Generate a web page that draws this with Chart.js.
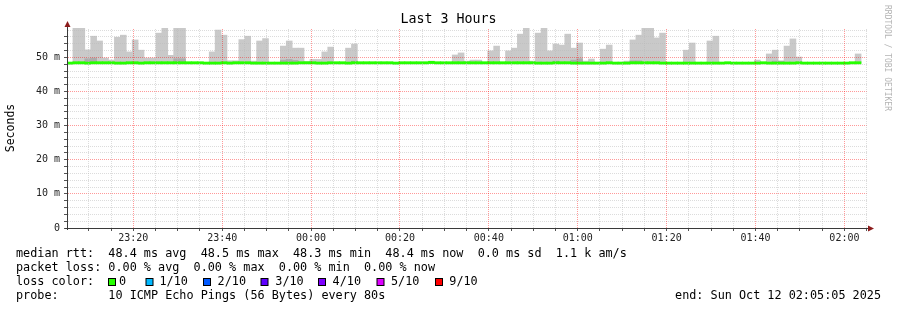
<!DOCTYPE html>
<html>
<head>
<meta charset="utf-8">
<script src="https://cdn.jsdelivr.net/npm/chart.js@4.4.1/dist/chart.umd.min.js"></script>
<style>
  html, body { margin: 0; padding: 0; background: #fff; }
  canvas { display: block; }
</style>
</head>
<body>
<canvas id="mainChart" width="897" height="310"></canvas>
<script>
// 3 hour window, one bin per 80s step, ending Sun Oct 12 02:05:05 2025
var startTime = '23:05:05';
var windowSecs = 10800;
var timeTickLabels = ['23:20', '23:40', '00:00', '00:20', '00:40', '01:00', '01:20', '01:40', '02:00'];
var yTickLabels = ['0', '10 m', '20 m', '30 m', '40 m', '50 m'];
var yMax = 58.6;

// median rtt per bin (ms)
var median = [
  48.3, 48.4, 48.4, 48.3, 48.4, 48.4, 48.4, 48.4, 48.3, 48.3, 48.4, 48.4, 48.3, 48.4, 48.4, 48.4, 48.4, 48.4, 48.4, 48.4,
  48.4, 48.4, 48.4, 48.3, 48.3, 48.3, 48.4, 48.3, 48.4, 48.4, 48.4, 48.3, 48.3, 48.3, 48.3, 48.3, 48.3, 48.3, 48.3, 48.4,
  48.4, 48.4, 48.3, 48.3, 48.4, 48.4, 48.4, 48.3, 48.4, 48.4, 48.4, 48.4, 48.4, 48.4, 48.4, 48.3, 48.4, 48.4, 48.4, 48.4,
  48.4, 48.5, 48.4, 48.4, 48.4, 48.4, 48.4, 48.4, 48.4, 48.4, 48.4, 48.4, 48.4, 48.4, 48.4, 48.4, 48.4, 48.4, 48.4, 48.3,
  48.3, 48.3, 48.4, 48.4, 48.4, 48.3, 48.3, 48.3, 48.3, 48.3, 48.3, 48.4, 48.3, 48.3, 48.3, 48.4, 48.4, 48.4, 48.4, 48.4,
  48.3, 48.3, 48.3, 48.3, 48.3, 48.3, 48.3, 48.3, 48.3, 48.3, 48.3, 48.4, 48.3, 48.3, 48.3, 48.3, 48.3, 48.4, 48.3, 48.3,
  48.3, 48.3, 48.3, 48.4, 48.3, 48.3, 48.3, 48.3, 48.3, 48.3, 48.3, 48.3, 48.4, 48.4, null
];

// highest ping per bin (outer smoke), null = no spread above median
var smokeHi = [
  null, 58.6, 58.6, 52.2, 56.2, 54.8, 49.8, 49.2, 55.9, 56.5, 51.6, 55.1, 52.1, 49.8, 49.8, 57.1, 58.6, 50.6, 58.6, 58.6,
  null, null, null, null, 51.6, 58.0, 56.5, 49.0, 49.0, 55.2, 56.2, 48.9, 54.8, 55.5, null, null, 53.3, 54.8, 52.7, 52.7,
  48.8, 49.4, 49.4, 51.6, 53.0, null, null, 52.7, 53.9, null, null, null, null, null, null, null, null, null, null, null,
  null, 48.9, null, null, null, 50.7, 51.3, 48.9, 49.2, 49.2, null, 51.9, 53.3, null, 51.9, 52.7, 56.8, 58.6, 48.9, 57.1,
  58.6, 51.9, 53.9, 53.6, 56.8, 52.7, 54.2, 48.9, 49.5, null, 52.4, 53.6, null, null, 48.9, 55.1, 56.5, 58.6, 58.6, 55.7,
  57.1, null, null, null, 52.1, 54.2, null, null, 54.8, 56.2, null, null, null, null, null, null, 49.2, null, 51.0, 52.1,
  48.9, 53.3, 55.4, 50.1, null, null, null, null, null, null, null, null, null, 51.0, null
];

// inner (denser) smoke per bin
var smokeInner = [
  null, null, null, 49.6, 49.8, null, null, null, null, null, null, null, null, null, null, null, null, null, 49.6, 49.6,
  null, null, null, null, null, null, null, null, null, null, null, null, null, null, null, null, 49.2, 49.4, 49.1, null,
  null, null, null, null, null, null, null, null, 48.9, null, null, null, null, null, null, null, null, null, null, null,
  null, null, null, null, null, null, null, null, null, null, null, null, null, null, null, null, null, null, null, null,
  null, null, 48.9, null, null, 49.2, 49.6, null, null, null, null, null, null, null, null, 49.0, 49.0, null, null, null,
  null, null, null, null, null, null, null, null, null, null, null, null, null, null, null, null, null, null, null, 48.9,
  48.9, null, null, null, null, null, null, null, null, null, null, null, null, null, null
];

var lossLabels = ['0', '1/10', '2/10', '3/10', '4/10', '5/10', '9/10'];
var lossColors = ['#26ff00', '#00b8ff', '#0059ff', '#5e00ff', '#7e00ff', '#dd00ff', '#ff0000'];

var rttLine = 'median rtt:  48.4 ms avg  48.5 ms max  48.3 ms min  48.4 ms now  0.0 ms sd  1.1 k am/s';
var lossLine = 'packet loss: 0.00 % avg  0.00 % max  0.00 % min  0.00 % now';
var probeLine = 'probe:       10 ICMP Echo Pings (56 Bytes) every 80s';
var endLine = 'end: Sun Oct 12 02:05:05 2025';

var MONO = '"DejaVu Sans Mono", monospace';
var GREEN_HALF = 0.33;   // half thickness of the median band, in ms

function toAbs(t) {
  var p = t.split(':');
  return parseInt(p[0]) * 3600 + parseInt(p[1]) * 60 + (p[2] ? parseInt(p[2]) : 0);
}
//seconds since the window start for a hh:mm(:ss) string
function toSecs(t) {
  var s = toAbs(t);
  var s0 = toAbs(startTime);
  if (s < s0) s += 86400;
  return s - s0;
}

var majorSecs = timeTickLabels.map(toSecs);
var minorSecs = [];
for (var s = toSecs('23:10'); s <= windowSecs; s += 300) minorSecs.push(s);

var categories = median.map(function (v, i) { return i; });
var medianBars = median.map(function (v) { return v == null ? null : [v - GREEN_HALF, v + GREEN_HALF]; });
var smokeBars = smokeHi.map(function (v, i) { return v == null ? null : [median[i], v]; });
var innerBars = smokeInner.map(function (v, i) { return v == null ? null : [median[i], v]; });

var GRID_MINOR = 'rgba(185,185,185,0.5)';
var GRID_MAJOR = 'rgba(255,0,0,0.4)';

//dotted rrdtool style grid, drawn over the data
var rrdGrid = {
  id: 'rrdGrid',
  afterDatasetsDraw: function (chart) {
    var ctx = chart.ctx;
    var a = chart.chartArea;
    var xs = chart.scales.xt, ys = chart.scales.y;
    var top = Math.round(a.top), bottom = Math.round(a.bottom);
    var left = Math.round(a.left), right = Math.round(a.right);
    ctx.save();

    //horizontal
    for (var v = 2; v < yMax; v += 2) {
      var py = Math.round(ys.getPixelForValue(v) - 0.5);
      ctx.fillStyle = v % 10 === 0 ? GRID_MAJOR : GRID_MINOR;
      for (var x = left + 1; x < right; x += 2) ctx.fillRect(x, py, 1, 1);
    }
    //vertical
    for (var i = 0; i < minorSecs.length; i++) {
      var px = Math.round(xs.getPixelForValue(minorSecs[i]) - 0.5);
      ctx.fillStyle = majorSecs.indexOf(minorSecs[i]) >= 0 ? GRID_MAJOR : GRID_MINOR;
      for (var y = bottom - 1; y > top; y -= 2) ctx.fillRect(px, y, 1, 1);
    }
    ctx.restore();
  }
};

var rrdDecor = {
  id: 'rrdDecor',
  beforeDraw: function (chart) {
    var ctx = chart.ctx;
    ctx.save();
    ctx.fillStyle = '#ffffff';
    ctx.fillRect(0, 0, chart.width, chart.height);
    ctx.restore();
  },
  afterDraw: function (chart) {
    var ctx = chart.ctx;
    var a = chart.chartArea;
    ctx.save();

    //axes
    ctx.strokeStyle = '#3a3a3a';
    ctx.lineWidth = 1;
    ctx.beginPath();
    ctx.moveTo(a.left + 0.5, a.bottom + 2);
    ctx.lineTo(a.left + 0.5, a.top - 4);
    ctx.moveTo(a.left - 2, a.bottom + 0.5);
    ctx.lineTo(a.right + 2, a.bottom + 0.5);
    ctx.stroke();

    //arrows
    ctx.fillStyle = '#8c1c1c';
    ctx.beginPath();
    ctx.moveTo(a.left - 2.5, a.top - 1);
    ctx.lineTo(a.left + 3.5, a.top - 1);
    ctx.lineTo(a.left + 0.5, a.top - 7);
    ctx.closePath();
    ctx.fill();
    ctx.beginPath();
    ctx.moveTo(a.right + 1, a.bottom - 2.5);
    ctx.lineTo(a.right + 1, a.bottom + 3.5);
    ctx.lineTo(a.right + 7, a.bottom + 0.5);
    ctx.closePath();
    ctx.fill();

    //title
    ctx.fillStyle = '#000';
    ctx.textBaseline = 'middle';
    ctx.textAlign = 'center';
    ctx.font = '13.3px ' + MONO;
    ctx.fillText('Last 3 Hours', chart.width / 2, 19.5);

    //vertical label
    ctx.save();
    ctx.translate(11, (a.top + a.bottom) / 2);
    ctx.rotate(-Math.PI / 2);
    ctx.font = '11.5px ' + MONO;
    ctx.fillText('Seconds', 0, 0);
    ctx.restore();

    //watermark
    ctx.save();
    ctx.translate(887, 5);
    ctx.rotate(Math.PI / 2);
    ctx.textAlign = 'left';
    ctx.fillStyle = '#b4b4b4';
    ctx.font = '8px ' + MONO;
    ctx.fillText('RRDTOOL / TOBI OETIKER', 0, 0);
    ctx.restore();

    //legend
    ctx.textAlign = 'left';
    ctx.fillStyle = '#000';
    ctx.font = '11.8px ' + MONO;
    ctx.fillText(rttLine, 16, 254.3);
    ctx.fillText(lossLine, 16, 268.3);
    ctx.fillText('loss color:', 16, 282.3);
    ctx.fillText(probeLine, 16, 296.3);
    ctx.textAlign = 'right';
    ctx.fillText(endLine, 881, 296.3);

    var boxX = [108, 145.5, 203, 260.5, 318, 376.5, 435];
    var textX = [119, 159.5, 217.6, 275.3, 332.6, 391, 449.3];
    ctx.textAlign = 'left';
    for (var i = 0; i < lossLabels.length; i++) {
      ctx.fillStyle = lossColors[i];
      ctx.fillRect(boxX[i] + 0.5, 278.5, 7, 7);
      ctx.strokeStyle = '#000';
      ctx.strokeRect(boxX[i] + 0.5, 278.5, 7, 7);
      ctx.fillStyle = '#000';
      ctx.fillText(lossLabels[i], textX[i], 282.3);
    }
    ctx.restore();
  }
};

var ctx = document.getElementById('mainChart').getContext('2d');
var chart = new Chart(ctx, {
  type: 'bar',
  data: {
    labels: categories,
    datasets: [
      { label: 'median', data: medianBars, backgroundColor: lossColors[0] },
      { label: 'smoke inner', data: innerBars, backgroundColor: '#acacac' },
      { label: 'smoke', data: smokeBars, backgroundColor: '#c9c9c9' }
    ]
  },
  options: {
    responsive: false,
    animation: false,
    devicePixelRatio: 1,
    datasets: {
      bar: { grouped: false, categoryPercentage: 1, barPercentage: 1, borderWidth: 0, borderSkipped: false }
    },
    layout: { padding: { left: 0, right: 30, top: 28, bottom: 0 } },
    plugins: { legend: { display: false }, title: { display: false }, tooltip: { enabled: false } },
    scales: {
      x: { display: false },
      xt: {
        type: 'linear',
        position: 'bottom',
        min: 0,
        max: windowSecs,
        offset: false,
        afterBuildTicks: function (scale) {
          scale.ticks = minorSecs.map(function (v) { return { value: v }; });
        },
        afterFit: function (scale) { scale.height = 82; },
        grid: {
          offset: false,
          drawOnChartArea: false,
          tickLength: 3,
          tickColor: '#555'
        },
        border: { display: false },
        ticks: {
          autoSkip: false,
          maxRotation: 0,
          padding: 1.5,
          color: '#222',
          font: { family: 'DejaVu Sans Mono', size: 10 },
          callback: function (v) {
            var k = majorSecs.indexOf(v);
            return k >= 0 ? timeTickLabels[k] : '';
          }
        }
      },
      y: {
        min: 0,
        max: yMax,
        afterBuildTicks: function (scale) {
          scale.ticks = scale.ticks.filter(function (t) { return t.value % 2 === 0; });
        },
        afterFit: function (scale) { scale.width = 67; },
        grid: {
          drawOnChartArea: false,
          tickLength: 3,
          tickColor: '#555'
        },
        border: { display: false },
        ticks: {
          stepSize: 2,
          autoSkip: false,
          padding: 4,
          color: '#222',
          font: { family: 'DejaVu Sans Mono', size: 10 },
          callback: function (v) {
            return v % 10 === 0 ? yTickLabels[v / 10] : '';
          }
        }
      }
    }
  },
  plugins: [rrdGrid, rrdDecor]
});
</script>
</body>
</html>
